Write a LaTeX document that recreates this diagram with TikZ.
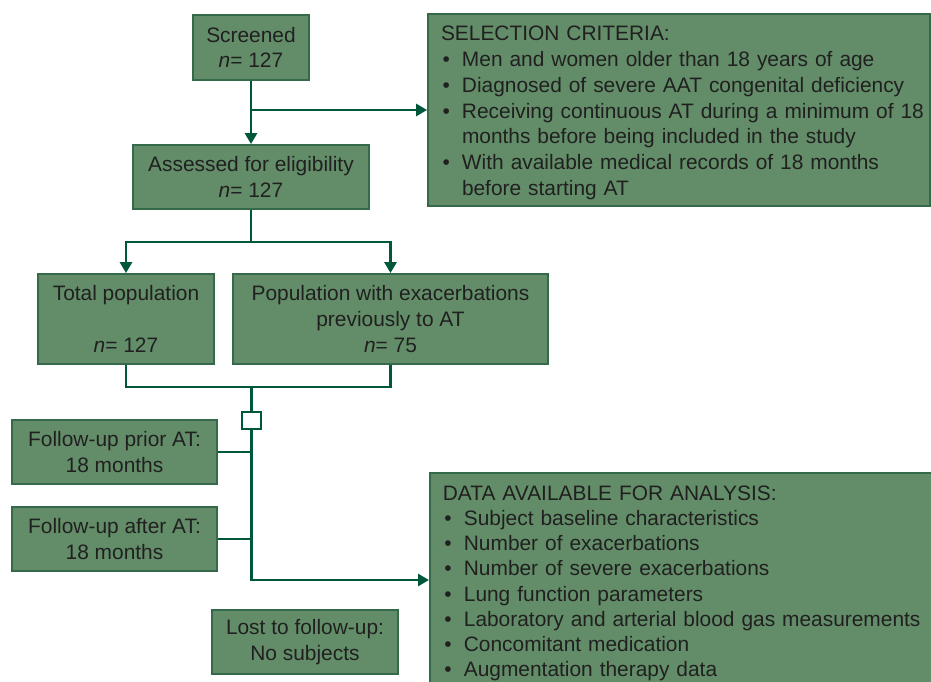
\documentclass[tikz,border=0pt]{standalone}
\usepackage{fontspec}
\setmainfont{Liberation Sans}
\usetikzlibrary{arrows.meta}

\definecolor{boxfill}{RGB}{99,141,104}
\definecolor{boxline}{RGB}{52,106,74}
\definecolor{flowline}{RGB}{0,88,58}
\definecolor{txtgray}{RGB}{32,32,32}

% bullet and hanging indent for the two lists
\newcommand{\bul}{\makebox[21pt][l]{\hspace{1.5pt}\textbullet}}
\newcommand{\hang}{\hspace*{21pt}}

\begin{document}
\begin{tikzpicture}[x=1pt,y=-1pt,
	flowbox/.style={draw=boxline,line width=1.8pt,fill=boxfill,text=txtgray,
		align=center,inner sep=0pt,font=\fontsize{20.9}{25.8}\selectfont},
	listbox/.style={flowbox,align=left,inner xsep=13pt,text width=476pt},
	flow/.style={draw=flowline,line width=2.8pt},
	stub/.style={draw=flowline,line width=2pt},
	tip/.style={-{Triangle[length=11pt,width=12pt]}}]
	
	\useasboundingbox (0,0) rectangle (931,682);
	
	% Screening
	\node[flowbox,minimum width=116pt,minimum height=65pt] (screen) at (251,47.5)
	{Screened\\\textit{n}= 127};
	
	% Selection criteria
	\node[listbox,minimum width=502pt,minimum height=192pt,
	font=\fontsize{20.9}{25.7}\selectfont] (select) at (679,110)
	{\rule{0pt}{20.5pt}SELECTION CRITERIA:\\
		\bul Men and women older than 18 years of age\\
		\bul Diagnosed of severe AAT congenital deficiency\\
		\bul\mbox{Receiving continuous AT during a minimum of 18}\\
		\hang months before being included in the study\\
		\bul With available medical records of 18 months\\
		\hang before starting AT};
	
	% Eligibility
	\node[flowbox,minimum width=236pt,minimum height=64pt] (assess) at (251,177)
	{Assessed for eligibility\\\textit{n}= 127};
	
	% Two populations
	\node[flowbox,minimum width=176pt,minimum height=90pt] (total) at (126,319)
	{Total population\\\mbox{}\\\textit{n}= 127};
	\node[flowbox,minimum width=315pt,minimum height=90pt] (exacpop) at (390.5,319)
	{Population with exacerbations\\previously to AT\\\textit{n}= 75};
	
	% Gate square on the trunk
	\node[draw=flowline,line width=2pt,fill=white,minimum width=19pt,
	minimum height=17pt,inner sep=0pt] (gate) at (251.5,420.5) {};
	
	% Follow-up periods
	\node[flowbox,minimum width=205pt,minimum height=64pt] (prior) at (114.5,452)
	{Follow-up prior AT:\\18 months};
	\node[flowbox,minimum width=205pt,minimum height=64pt] (after) at (114.5,539)
	{Follow-up after AT:\\18 months};
	
	% Lost to follow-up
	\node[flowbox,minimum width=186pt,minimum height=64pt] (lost) at (305,642)
	{Lost to follow-up:\\No subjects};
	
	% Data available (runs off the bottom edge)
	\node[listbox,anchor=north west,inner ysep=13pt,
	font=\fontsize{20.9}{25.15}\selectfont] (data) at (429,472)
	{DATA AVAILABLE FOR ANALYSIS:\\
		\bul Subject baseline characteristics\\
		\bul Number of exacerbations\\
		\bul Number of severe exacerbations\\
		\bul Lung function parameters\\
		\bul\mbox{Laboratory and arterial blood gas measurements}\\
		\bul Concomitant medication\\
		\bul Augmentation therapy data};
	
	% Connectors
	\draw[flow,tip] (screen.south) -- (assess.north);
	\draw[flow,tip] (screen.south |- select.west) -- (select.west);
	\coordinate (split) at (251,242);
	\draw[flow] (assess.south) -- (split);
	\draw[flow,tip] (split) -| (total.north);
	\draw[flow,tip] (split) -| (exacpop.north);
	\coordinate (join) at (251.5,387);
	\draw[flow] (total.south) |- (join) -| (exacpop.south);
	\draw[flow] (join) -- (gate.north);
	\coordinate (datain) at (429,580);
	\draw[flow,tip] (gate.south) |- (datain);
	\draw[stub] (prior.east) -- (prior.east -| gate);
	\draw[stub] (after.east) -- (after.east -| gate);
	
\end{tikzpicture}
\end{document}
